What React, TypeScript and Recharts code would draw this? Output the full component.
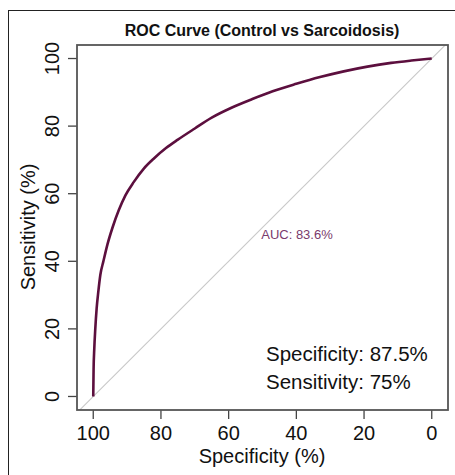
import React from 'react';
import { LineChart, Line, XAxis, YAxis, ReferenceLine } from 'recharts';

// (specificity %, sensitivity %)
const specificity = [100, 99.9, 99.7, 99.4, 99.0, 98.5, 97.9, 97.0, 95.8, 94.3, 92.5, 90.5, 88, 85, 82, 78.5, 75, 70, 65, 59, 53, 47, 40, 33, 26, 19, 12, 6, 0];
const sensitivity = [0, 8, 14, 20, 26, 31, 36, 40, 45, 50, 55, 59.5, 63.5, 67.5, 70.5, 73.5, 76.0, 79.3, 82.5, 85.5, 88, 90.3, 92.5, 94.5, 96.2, 97.6, 98.7, 99.4, 100];
const xTicks = [100, 80, 60, 40, 20, 0];
const yTicks = [0, 20, 40, 60, 80, 100];
const chanceLine = [{ x: 104.8, y: -4.8 }, { x: -4.8, y: 104.8 }];

const FONT = '"Liberation Sans", Arial, Helvetica, sans-serif';
const CURVE = '#5c0f3e';

const data = specificity.map((s, i) => ({ spec: s, sens: sensitivity[i] }));

const XTick = (p: any) => (
  <text x={p.x} y={p.y} dy={19} textAnchor="middle" fontSize={20} fontFamily={FONT} fill="#111">{p.payload.value}</text>
);

const YTick = (p: any) => (
  <text transform={`translate(${p.x - 7},${p.y}) rotate(-90)`} textAnchor="middle" fontSize={20} fontFamily={FONT} fill="#111">{p.payload.value}</text>
);

export default function App() {
  return (
    <div style={{ position: 'absolute', left: 0, top: 0, width: 455, height: 475, background: '#fff', overflow: 'hidden' }}>
      <div style={{ position: 'absolute', left: 8, top: 10, width: 470, height: 490, border: '1.5px solid #222' }} />
      <div style={{ position: 'absolute', left: 0, top: 0 }}>
        <LineChart width={455} height={475} data={data} margin={{ top: 45, right: 7, bottom: 0, left: 0 }}>
          <XAxis type="number" dataKey="spec" domain={[-4.8, 104.8]} reversed ticks={xTicks} allowDataOverflow
            height={65} axisLine={false} tickSize={9} tickLine={{ stroke: '#444', strokeWidth: 1.3 }} tick={<XTick />} />
          <YAxis type="number" domain={[-4, 104]} ticks={yTicks} allowDataOverflow
            width={77} axisLine={false} tickSize={9} tickLine={{ stroke: '#444', strokeWidth: 1.3 }} tick={<YTick />} />
          <ReferenceLine segment={chanceLine} ifOverflow="hidden" stroke="#c9c9c9" strokeWidth={1.1} />
          <Line type="monotone" dataKey="sens" stroke={CURVE} strokeWidth={2.6} dot={false} isAnimationActive={false} />
        </LineChart>
      </div>
      <svg width={455} height={475} style={{ position: 'absolute', left: 0, top: 0, pointerEvents: 'none' }} fontFamily={FONT}>
        <rect x={77} y={45} width={371} height={365} fill="none" stroke="#555" strokeWidth={1.8} />
        <text x={262} y={36} textAnchor="middle" fontSize={16} fontWeight="bold" fill="#111">ROC Curve (Control vs Sarcoidosis)</text>
        <text x={262} y={463} textAnchor="middle" fontSize={20} fill="#111">Specificity (%)</text>
        <text transform="translate(35,227) rotate(-90)" textAnchor="middle" fontSize={20} fill="#111">Sensitivity (%)</text>
        <text x={297} y={239} textAnchor="middle" fontSize={13} fill="#7a3a6c">AUC: 83.6%</text>
        <text x={266} y={361} fontSize={20.5} fill="#111">Specificity: 87.5%</text>
        <text x={266} y={389} fontSize={20.5} fill="#111">Sensitivity: 75%</text>
      </svg>
    </div>
  );
}
